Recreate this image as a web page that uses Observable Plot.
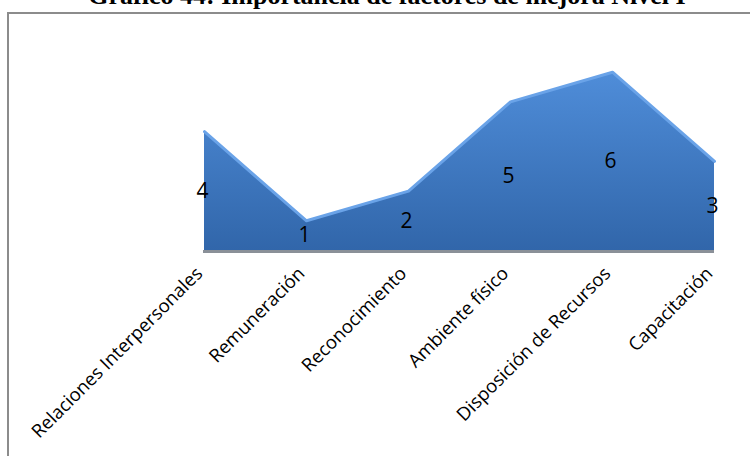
<!DOCTYPE html>
<html>
<head>
<meta charset="utf-8">
<script src="https://cdn.jsdelivr.net/npm/d3@7"></script>
<script src="https://cdn.jsdelivr.net/npm/@observablehq/plot@0.6"></script>
<style>
  body { margin: 0; background: #fff; }
  #wrap { position: relative; width: 750px; height: 456px; overflow: hidden; }
  #title {
    position: absolute; left: 0; width: 774px; top: -19px; line-height: 30px;
    text-align: center; white-space: nowrap;
    font: bold 26px "Liberation Serif", "Times New Roman", serif; color: #000;
  }
  #frame {
    position: absolute; left: 7px; top: 12px; width: 800px; height: 500px;
    border: 2px solid #8c8c8c;
  }
  #chart { position: absolute; left: 0; top: 0; }
</style>
</head>
<body>
<div id="wrap">
  <div id="title">Gráfico 44: Importancia de factores de mejora Nivel I</div>
  <div id="frame"></div>
  <div id="chart"></div>
</div>
<script>
// Factores de mejora y su importancia (Nivel I)
const factores = [
  "Relaciones Interpersonales",
  "Remuneración",
  "Reconocimiento",
  "Ambiente físico",
  "Disposición de Recursos",
  "Capacitación"
];
const valores = [4, 1, 2, 5, 6, 3];

const datos = factores.map((factor, i) => ({ factor, valor: valores[i] }));

const grafico = Plot.plot({
  width: 750,
  height: 456,
  marginLeft: 203,
  marginRight: 36,
  marginTop: 42,
  marginBottom: 206,
  style: { background: "transparent", color: "#000", fontFamily: "'Open Sans', sans-serif" },
  x: { type: "point", domain: factores, padding: 0, label: null },
  y: { domain: [0, 7], axis: null },
  marks: [
    Plot.areaY(datos, { x: "factor", y: "valor", fill: "url(#relleno)" }),
    Plot.lineY(datos, { x: "factor", y: "valor", stroke: "#6aa3e8", strokeWidth: 3, strokeLinejoin: "round" }),
    Plot.ruleY([0], { stroke: "#8a9098", strokeWidth: 3, dy: 1 }),
    Plot.text(datos, {
      x: "factor", y: (d) => d.valor / 2, text: (d) => String(d.valor),
      fontSize: 21, fill: "#000", dx: -2
    }),
    Plot.axisX({
      tickRotate: -45, tickSize: 0, tickPadding: 14, fontSize: 18.5,
      label: null, fill: "#000", dx: -5, dy: 6
    })
  ]
});

// Degradado vertical del área
d3.select(grafico).insert("defs", ":first-child").html(
  `<linearGradient id="relleno" x1="0" y1="0" x2="0" y2="1">
     <stop offset="0" stop-color="#4f8dd9"/>
     <stop offset="1" stop-color="#3166aa"/>
   </linearGradient>`
);

document.getElementById("chart").appendChild(grafico);
</script>
</body>
</html>
